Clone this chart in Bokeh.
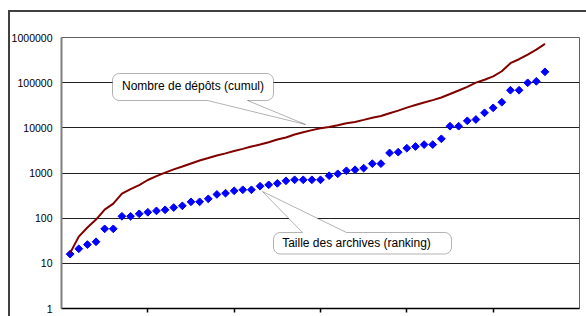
import numpy as np
from bokeh.plotting import figure
from bokeh.models import (Range1d, FixedTicker, NumeralTickFormatter, PolyAnnotation,
                          Label, ColumnDataSource)
from bokeh.embed import file_html
from bokeh.resources import INLINE

# ---- data ----
rank = list(range(1, 57))
archive_size = [16, 21, 26, 30, 58, 58, 110, 110, 125, 135, 145, 153, 172, 188, 230,
                230, 268, 335, 357, 403, 425, 425, 510, 547, 590, 671, 707, 707, 707, 707,
                870, 960, 1120, 1180, 1280, 1610, 1610, 2780, 2890, 3540, 3860, 4250, 4250,
                5710, 10860, 10860, 14300, 15290, 21500, 27700, 36900, 68000, 68000, 99300,
                107000, 174000]
cumulative_deposits = [17, 39, 62, 93, 155, 210, 350, 440, 540, 700, 850, 1020, 1200, 1390,
                       1620, 1890, 2150, 2450, 2720, 3060, 3420, 3850, 4260, 4800, 5500, 6100,
                       7100, 8000, 8900, 9800, 10400, 11400, 12600, 13500, 15000, 16700, 18300,
                       21000, 24000, 28000, 32000, 36500, 41000, 47000, 56000, 67000, 81000,
                       100000, 116000, 138000, 179000, 270000, 330000, 420000, 540000, 720000]
y_ticks = [1, 10, 100, 1000, 10000, 100000, 1000000]
x_ticks = [10, 20, 30, 40, 50]
label_deposits = "Nombre de dépôts (cumul)"
label_archives = "Taille des archives (ranking)"

FONT = "Liberation Sans"

W, H = 586, 316
FL, FT = 61, 37          # frame left/top inside canvas
FR, FB = 579, 308        # frame right/bottom inside canvas
XMAX = 60

p = figure(width=W, height=H, output_backend="svg", toolbar_location=None,
           y_axis_type="log", x_range=Range1d(0, XMAX), y_range=Range1d(1, 1e6),
           min_border_left=FL, min_border_top=FT, min_border_right=W - FR,
           min_border_bottom=H - FB)
p.background_fill_color = "white"
p.border_fill_color = None
p.styles = {"background-color": "white",
            "box-shadow": "inset 8px 10px 0 0 #ffffff, inset 10px 12px 0 0 #404040"}
p.outline_line_color = "#606060"
p.outline_line_width = 1

p.xgrid.grid_line_color = None
p.ygrid.ticker = FixedTicker(ticks=y_ticks)
p.ygrid.grid_line_color = "#202020"
p.ygrid.grid_line_width = 1

p.yaxis.ticker = FixedTicker(ticks=y_ticks, minor_ticks=[])
p.yaxis.formatter = NumeralTickFormatter(format="0")
p.yaxis.major_tick_out = 0
p.yaxis.major_tick_in = 0
p.yaxis.minor_tick_out = 0
p.yaxis.minor_tick_in = 0
p.yaxis.axis_line_color = "#808080"
p.yaxis.axis_line_width = 2
p.yaxis.major_label_text_font = FONT
p.yaxis.major_label_text_font_size = "10.5px"
p.yaxis.major_label_text_color = "black"
p.yaxis.major_label_standoff = 9

p.xaxis.ticker = FixedTicker(ticks=x_ticks, minor_ticks=[])
p.xaxis.axis_line_color = "black"
p.xaxis.axis_line_width = 1.5
p.xaxis.major_tick_out = 4
p.xaxis.major_tick_in = 0
p.xaxis.major_tick_line_color = "black"
p.xaxis.major_tick_line_width = 1.5
p.xaxis.minor_tick_out = 0
p.xaxis.minor_tick_in = 0
p.xaxis.major_label_text_font_size = "1px"
p.xaxis.major_label_text_color = None
p.xaxis.major_label_standoff = 0

src = ColumnDataSource(dict(rank=rank, archives=archive_size, deposits=cumulative_deposits))
p.scatter("rank", "archives", source=src, marker="square", angle=np.pi / 4, size=5.5,
          fill_color="#0000FF", line_color="#0000FF")
p.line("rank", "deposits", source=src, line_color="#800000", line_width=2)

# ---- callouts (pixel layout -> data coords) ----
def to_data(px, py):
    xd = (px - FL) / (FR - FL) * XMAX
    yd = 10 ** ((FB - py) / (FB - FT) * 6)
    return xd, yd

def callout(x0, y0, x1, y1, r, tip, base, edge):
    pts = []
    def arc(cx, cy, a0, a1):
        for a in np.linspace(np.radians(a0), np.radians(a1), 8):
            pts.append((cx + r * np.cos(a), cy + r * np.sin(a)))
    arc(x0 + r, y0 + r, 180, 270)
    if edge == "top":
        pts.extend([(base[0], y0), tip, (base[1], y0)])
    arc(x1 - r, y0 + r, 270, 360)
    arc(x1 - r, y1 - r, 0, 90)
    if edge == "bottom":
        pts.extend([(base[1], y1), tip, (base[0], y1)])
    arc(x0 + r, y1 - r, 90, 180)
    xs, ys = zip(*[to_data(a, b) for a, b in pts])
    return list(xs), list(ys)

xs, ys = callout(112, 73, 273, 100, 7, (305, 124), (207, 247), "bottom")
p.add_layout(PolyAnnotation(xs=xs, ys=ys, fill_color="white", fill_alpha=1,
                            line_color="black", line_width=1))
lx, ly = to_data(192.5, 85)
p.add_layout(Label(x=lx, y=ly, text=label_deposits, text_font=FONT, text_font_size="12px",
                   text_align="center", text_baseline="middle", text_color="black"))

xs, ys = callout(273, 232, 451, 253.5, 7, (262, 191), (302, 346), "top")
p.add_layout(PolyAnnotation(xs=xs, ys=ys, fill_color="white", fill_alpha=1,
                            line_color="black", line_width=1))
lx, ly = to_data(356, 242.5)
p.add_layout(Label(x=lx, y=ly, text=label_archives, text_font=FONT, text_font_size="12px",
                   text_align="center", text_baseline="middle", text_color="black"))

open("out.html", "w").write(file_html(p, INLINE))
